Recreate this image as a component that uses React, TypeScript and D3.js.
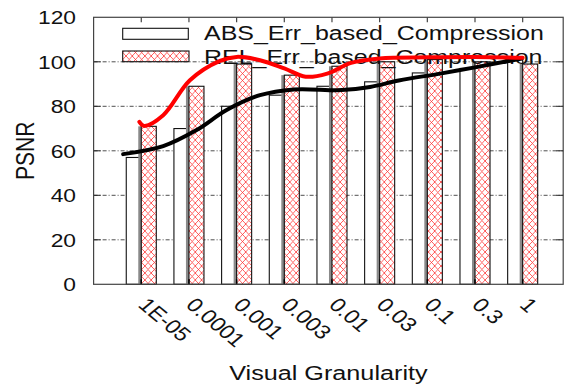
import React from 'react';
import * as d3 from 'd3';

const categories = ['1E-05', '0.0001', '0.001', '0.003', '0.01', '0.03', '0.1', '0.3', '1'];
const absValues = [57, 70, 80, 85, 89, 91, 95, 97, 101];
const relValues = [71, 89, 99, 94, 98, 100, 101, 100, 99];
const yTicks = [0, 20, 40, 60, 80, 100, 120];
const gridTicks = [20, 40, 60, 80, 100];
const seriesNames = ['ABS_Err_based_Compression', 'REL_Err_based_Compression'];

// smoothed trend curves (x in category index units, y in PSNR)
const absTrend: [number, number][] = [
  [-0.38, 58.5], [0.46, 62.1], [1.16, 69.3], [1.79, 78.3], [2.49, 85.0], [3.2, 87.6],
  [4.2, 87.3], [4.8, 88.7], [5.4, 91.6], [6.3, 94.8], [7.0, 97.5], [7.98, 101.5],
];
const relTrend: [number, number][] = [
  [-0.04, 73.0], [0.06, 71.2], [0.46, 76.0], [1.02, 91.7], [1.65, 100.4], [2.0, 102.2],
  [2.49, 100.7], [3.0, 97.0], [3.45, 93.3], [3.9, 94.7], [4.4, 99.5], [5.0, 101.5],
  [6.0, 102.0], [7.0, 102.2], [8.0, 101.8],
];

export default function App() {
  const W = 564;
  const H = 387;
  const SX = 1.2;
  const font = "'Liberation Sans', Arial, Helvetica, sans-serif";
  const x = d3.scaleLinear().domain([-1, 8.85]).range([93.6, 563.2]);
  const y = d3.scaleLinear().domain([0, 120]).range([284.3, 17.3]);
  const bw = 0.315;
  const [x0, x1] = x.range();
  const [yb, yt] = y.range();
  const line = d3
    .line<[number, number]>()
    .x((d) => x(d[0]))
    .y((d) => y(d[1]))
    .curve(d3.curveCatmullRom.alpha(0.5));

  const txt = (px: number, py: number, extra = '') => `translate(${px},${py}) scale(${SX},1)${extra}`;

  return (
    <svg width={W} height={H} style={{ position: 'absolute', left: 0, top: 0, background: '#fff' }}>
      <defs>
        <pattern id="hatch" patternUnits="userSpaceOnUse" width={6.3} height={7}>
          <rect width={6.3} height={7} fill="#fff" />
          <path d="M0,0L6.3,7M0,7L6.3,0" stroke="#ff2a2a" strokeWidth={0.75} />
        </pattern>
      </defs>
      <rect x={0} y={0} width={W} height={H} fill="#fff" />
      {/* grid */}
      {gridTicks.map((t) => (
        <line key={'g' + t} x1={x0} x2={x1} y1={y(t)} y2={y(t)} stroke="#222" strokeWidth={0.8} strokeDasharray="4 2 1 2" />
      ))}
      {/* bars */}
      {categories.map((c, i) => (
        <g key={c}>
          <rect x={x(i - bw)} y={y(absValues[i])} width={x(i) - x(i - bw)} height={yb - y(absValues[i])} fill="#fff" stroke="#111" strokeWidth={1.1} />
          <rect x={x(i) - 3} y={y(relValues[i])} width={3} height={yb - y(relValues[i])} fill="#8a8a8a" />
          <rect x={x(i)} y={y(relValues[i])} width={x(i + bw) - x(i)} height={yb - y(relValues[i])} fill="url(#hatch)" stroke="#111" strokeWidth={1.1} />
        </g>
      ))}
      {/* ticks */}
      {gridTicks.map((t) => (
        <g key={'t' + t}>
          <line x1={x0} x2={x0 + 7} y1={y(t)} y2={y(t)} stroke="#222" strokeWidth={1} />
          <line x1={x1} x2={x1 - 7} y1={y(t)} y2={y(t)} stroke="#222" strokeWidth={1} />
        </g>
      ))}
      {categories.map((c, i) => (
        <g key={'xt' + c}>
          <line x1={x(i)} x2={x(i)} y1={yb} y2={yb - 5} stroke="#000" strokeWidth={1.5} />
          <line x1={x(i)} x2={x(i)} y1={yt} y2={yt + 5} stroke="#444" strokeWidth={1.2} />
        </g>
      ))}
      <rect x={x0} y={yt} width={x1 - x0} height={yb - yt} fill="none" stroke="#444" strokeWidth={1.2} />
      {/* y tick labels */}
      {yTicks.map((t) => (
        <text key={'yl' + t} transform={txt(76, y(t) + 6.8)} textAnchor="end" fontFamily={font} fontSize={19} fill="#111">
          {t}
        </text>
      ))}
      {/* x tick labels */}
      {categories.map((c, i) => (
        <text key={'xl' + c} transform={txt(x(i) - 4.3, 306, ' rotate(45)')} textAnchor="start" fontFamily={font} fontSize={19.5} fill="#111">
          {c}
        </text>
      ))}
      {/* axis titles */}
      <text transform={txt((x0 + x1) / 2, 380)} textAnchor="middle" fontFamily={font} fontSize={21} fill="#111">
        Visual Granularity
      </text>
      <text transform={`translate(34,${(yb + yt) / 2}) scale(${SX},1) rotate(-90)`} textAnchor="middle" fontFamily={font} fontSize={21} fill="#111">
        PSNR
      </text>
      {/* legend */}
      <rect x={122.7} y={28.3} width={65.6} height={11} fill="#fff" stroke="#111" strokeWidth={1.1} />
      <rect x={122.7} y={51} width={66.3} height={10.7} fill="url(#hatch)" stroke="#111" strokeWidth={1.1} />
      <text transform={txt(204, 40)} fontFamily={font} fontSize={20.8} fill="#111">
        {seriesNames[0]}
      </text>
      <text transform={txt(204, 64)} fontFamily={font} fontSize={20.8} fill="#111">
        {seriesNames[1]}
      </text>
      {/* trend curves */}
      <path d={line(absTrend) || ''} fill="none" stroke="#000" strokeWidth={4} strokeLinecap="round" />
      <path d={line(relTrend) || ''} fill="none" stroke="#ff0000" strokeWidth={4} strokeLinecap="round" />
    </svg>
  );
}
